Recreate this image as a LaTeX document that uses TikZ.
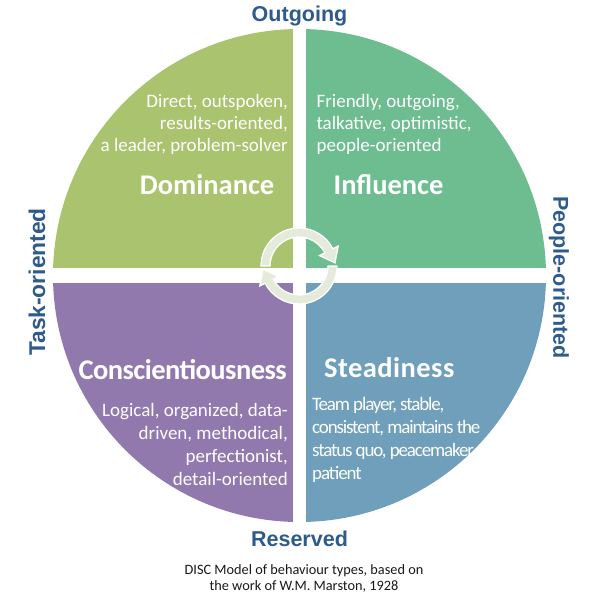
\documentclass[tikz,border=0pt]{standalone}
\usepackage{fontspec}
\usetikzlibrary{calc}
\newfontfamily\calib{Carlito}
\newfontfamily\calibT{Carlito}[LetterSpace=-6]
\newfontfamily\calibV{Carlito}[LetterSpace=1.6]
\newfontfamily\calibW{Carlito}[LetterSpace=-1.9]
\newfontfamily\arial{Liberation Sans}
\definecolor{domC}{HTML}{AAC36F}
\definecolor{infC}{HTML}{6DBD91}
\definecolor{conC}{HTML}{9179AE}
\definecolor{steC}{HTML}{6F9FBA}
\definecolor{axisC}{HTML}{2E5B8C}
\definecolor{arrowC}{HTML}{E5EBDA}
\tikzset{
  axislab/.style={font=\arial\bfseries\fontsize{21.5}{24}\selectfont, text=axisC, inner sep=0pt},
  qtitle/.style={font=\calib\bfseries\fontsize{28.5}{32}\selectfont, text=white, inner sep=0pt},
  desc/.style={font=\calib\fontsize{19}{22.3}\selectfont, text=white, inner sep=0pt},
  descT/.style={font=\calibT\fontsize{19}{22.9}\selectfont, text=white, inner sep=0pt},
  caption/.style={font=\calib\fontsize{14.3}{16.7}\selectfont, text=black!90, inner sep=0pt, align=center},
  cyclearrow/.style={fill=arrowC, draw=white, line width=1.3pt, line join=miter}
}
\begin{document}
\begin{tikzpicture}[x=1pt,y=-1pt]
\useasboundingbox (0,0) rectangle (593,600);
\fill[white] (0,0) rectangle (593,600);
\coordinate (C) at (299.5,275.5);
% quadrants
\begin{scope}\clip (0,0) rectangle (299.5,275.5); \fill[domC] (C) circle[radius=246.5]; \end{scope}
\begin{scope}\clip (299.5,0) rectangle (593,275.5); \fill[infC] (C) circle[radius=246.5]; \end{scope}
\begin{scope}\clip (0,275.5) rectangle (299.5,600); \fill[conC] (C) circle[radius=246.5]; \end{scope}
\begin{scope}\clip (299.5,275.5) rectangle (593,600); \fill[steC] (C) circle[radius=246.5]; \end{scope}
% white cross
\fill[white] (292.8,20) rectangle (306.4,530);
\fill[white] (40,268.3) rectangle (560,282.7);
% cycle arrows
\coordinate (U) at (299,266);
\fill[cyclearrow] ($(U)+(180:38)$) arc[start angle=180,end angle=333,radius=38]
  -- ($(U)+(333:44)$) -- ($(U)+(333:33.5)+(63:13.5)$) -- ($(U)+(333:23)$)
  -- ($(U)+(333:29)$) arc[start angle=333,end angle=180,radius=29] -- cycle;
\begin{scope}[rotate around={180:(299,275.25)}]
\fill[cyclearrow] ($(U)+(180:38)$) arc[start angle=180,end angle=333,radius=38]
  -- ($(U)+(333:44)$) -- ($(U)+(333:33.5)+(63:13.5)$) -- ($(U)+(333:23)$)
  -- ($(U)+(333:29)$) arc[start angle=333,end angle=180,radius=29] -- cycle;
\end{scope}
% axis labels
\node[axislab, anchor=base] (out) at (299.5,21.5) {Outgoing};
\node[axislab, anchor=base] (res) at (299.5,546) {Reserved};
\node[axislab, anchor=base, rotate=90, font=\arial\bfseries\fontsize{22.8}{24}\selectfont] (task) at (45,282) {Task-oriented};
\node[axislab, anchor=base, rotate=-90] (people) at (553.3,277.5) {People-oriented};
% titles
\node[qtitle, anchor=base east] (dom) at (274.5,194.5) {Dominance};
\node[qtitle, anchor=base west] (inf) at (333.5,194.5) {Influence};
\node[qtitle, anchor=base east, font=\calibW\bfseries\fontsize{28.5}{32}\selectfont] (con) at (287,379.5) {Conscientiousness};
\node[qtitle, anchor=base west, font=\calibV\bfseries\fontsize{28.5}{32}\selectfont] (ste) at (324,377.3) {Steadiness};
% descriptions (base = last line)
\node[desc, anchor=base east, align=right] (domd) at (288,151.9) {Direct, outspoken,\\results-oriented,\\a leader, problem-solver};
\node[desc, anchor=base west, align=left] (infd) at (316.4,151.9) {Friendly, outgoing,\\talkative, optimistic,\\people-oriented};
\node[desc, anchor=base east, align=right, font=\calib\fontsize{19}{22.7}\selectfont] (cond) at (288,485) {Logical, organized, data-\\driven, methodical,\\perfectionist,\\detail-oriented};
\node[descT, anchor=base west, align=left] (sted) at (312,479.3) {Team player, stable,\\consistent, maintains the\\status quo, peacemaker\\patient};
% caption
\node[caption, anchor=base] (cap) at (304,590.7) {DISC Model of behaviour types, based on\\the work of W.M. Marston, 1928};
\end{tikzpicture}
\end{document}
